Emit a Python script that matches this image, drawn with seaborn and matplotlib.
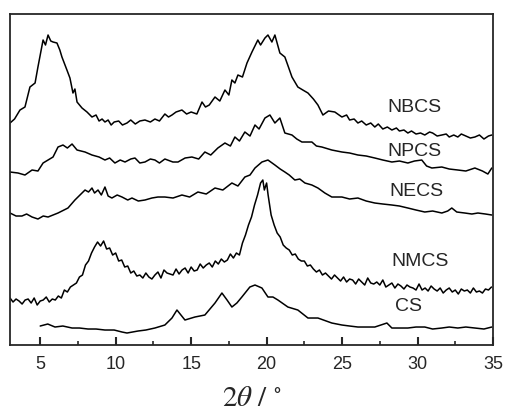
import numpy as np
import pandas as pd
import matplotlib
matplotlib.use("Agg")
import matplotlib.pyplot as plt
import seaborn as sns
from matplotlib.ticker import MultipleLocator

# XRD patterns, stacked with vertical offsets (arbitrary intensity units)
nbcs_2theta = [3.0, 3.3, 3.66, 3.99, 4.32, 4.66, 4.85, 5.19, 5.35, 5.52, 5.7, 5.85, 6.11, 6.3, 6.44,
               6.77, 6.97, 7.17, 7.3, 7.44, 7.77, 8.10, 8.43, 8.7, 8.9, 9.1, 9.29, 9.5, 9.7, 9.9,
               10.2, 10.45, 10.75, 11.0, 11.3, 11.6, 11.94, 12.3, 12.6, 12.9, 13.26, 13.5, 13.73,
               14.0, 14.39, 14.7, 15.0, 15.38, 15.72, 15.95, 16.2, 16.58, 16.9, 17.24, 17.5,
               17.70, 17.9, 18.10, 18.4, 18.70, 19.03, 19.42, 19.6, 19.89, 20.09, 20.35,
               20.55, 20.88, 21.21, 21.4, 21.68, 22.07, 22.4, 22.74, 23.1, 23.40, 23.73, 24.1,
               24.52, 24.99, 25.3, 25.5, 25.8, 26.05, 26.3, 26.6, 26.9, 27.17, 27.4, 27.7, 28.0,
               28.30, 28.6, 28.8, 29.1, 29.36, 29.6, 29.9, 30.2, 30.48, 30.8, 31.0, 31.3, 31.61,
               31.9, 32.1, 32.4, 32.67, 32.9, 33.2, 33.5, 33.80, 34.1, 34.4, 34.7, 34.92]
nbcs_int = [222, 226, 235, 238, 258, 262, 278, 305, 300, 310, 304, 303, 302, 295, 288,
            275, 267, 252, 256, 243, 237, 233, 228, 230, 224, 226, 223, 225, 220, 223,
            224, 220, 222, 225, 221, 224, 225, 223, 226, 224, 231, 228, 230,
            233, 235, 231, 233, 231, 243, 238, 240, 248, 244, 255, 250,
            265, 262, 270, 268, 282, 293, 305, 300, 307, 310, 303,
            310, 292, 288, 280, 268, 258, 255, 252, 246, 240, 230, 234,
            233, 228, 230, 225, 226, 222, 224, 220, 222, 218, 221, 216, 218,
            215, 217, 214, 215, 212, 214, 211, 212, 210, 213, 212, 209, 210,
            211, 208, 210, 208, 211, 209, 207, 208, 210, 206, 209, 210]

npcs_2theta = [3.0, 3.53, 3.99, 4.46, 4.85, 5.19, 5.52, 5.85, 6.18, 6.51, 6.8, 7.11, 7.44, 7.97,
               8.43, 8.9, 9.29, 9.6, 9.95, 10.3, 10.62, 11.0, 11.28, 11.6, 11.94, 12.3, 12.60,
               12.9, 13.26, 13.79, 14.13, 14.6, 15.05, 15.5, 15.91, 16.3, 16.77, 17.24, 17.6,
               17.90, 18.2, 18.56, 18.9, 19.23, 19.5, 19.89, 20.22, 20.55, 20.88, 21.21,
               21.68, 22.0, 22.34, 23.0, 23.3, 23.66, 24.32, 24.99, 25.5, 26.05, 26.6, 27.17,
               27.7, 28.30, 28.8, 29.36, 29.8, 30.28, 30.6, 30.95, 31.61, 32.1, 32.67, 33.2,
               33.80, 34.3, 34.66, 34.92]
npcs_int = [173, 172, 170, 175, 174, 182, 185, 188, 198, 200, 197, 201, 195, 193,
            190, 188, 185, 187, 182, 185, 183, 186, 187, 182, 183, 186, 185,
            182, 186, 183, 183, 187, 188, 186, 193, 190, 197, 202, 199,
            208, 204, 213, 209, 220, 216, 227, 230, 222, 227, 212,
            210, 206, 203, 203, 199, 198, 195, 193, 192, 190, 189, 187,
            185, 183, 184, 182, 184, 185, 179, 177, 178, 176, 175, 174,
            177, 174, 171, 177]

necs_2theta = [3.0, 3.4, 3.79, 4.1, 4.46, 4.85, 5.2, 5.52, 6.18, 6.84, 7.30, 7.97, 8.2, 8.43,
               8.6, 8.83, 9.05, 9.29, 9.5, 9.75, 10.1, 10.42, 10.8, 11.08, 11.5, 11.94, 12.4,
               12.80, 13.26, 13.8, 14.39, 14.9, 15.45, 16.0, 16.58, 17.1, 17.70, 18.1, 18.56,
               18.9, 19.23, 19.69, 20.09, 20.55, 20.9, 21.21, 21.5, 21.87, 22.2, 22.54, 23.0,
               23.40, 23.86, 24.32, 24.99, 25.5, 26.05, 26.6, 27.17, 27.7, 28.30, 28.8, 29.36,
               29.9, 30.48, 31.0, 31.61, 32.0, 32.27, 32.6, 33.13, 33.6, 34.0, 34.5, 34.92]
necs_int = [132, 129, 129, 131, 128, 126, 129, 128, 132, 137, 145, 155, 153, 157,
            152, 155, 150, 158, 149, 147, 150, 148, 145, 147, 144, 145, 147,
            148, 148, 147, 150, 148, 153, 151, 157, 155, 162, 159, 168,
            170, 177, 183, 185, 180, 176, 173, 170, 165, 166, 162, 160,
            157, 152, 148, 148, 146, 147, 144, 142, 141, 140, 139, 137,
            135, 133, 134, 132, 134, 137, 133, 132, 131, 132, 131, 130]

nmcs_2theta = [3.0, 3.2, 3.4, 3.6, 3.8, 4.0, 4.2, 4.4, 4.6, 4.8, 5.0, 5.2, 5.4, 5.6, 5.8, 6.0,
               6.2, 6.4, 6.6, 6.8, 7.0, 7.2, 7.4, 7.6, 7.8, 8.0, 8.2, 8.4, 8.6, 8.8, 9.0, 9.2,
               9.4, 9.6, 9.8, 10.0, 10.2, 10.4, 10.6, 10.8, 11.0, 11.2, 11.4, 11.6, 11.8, 12.0,
               12.2, 12.4, 12.6, 12.8, 13.0, 13.2, 13.4, 13.6, 13.8, 14.0, 14.2, 14.4, 14.6,
               14.8, 15.0, 15.2, 15.4, 15.6, 15.8, 16.0, 16.2, 16.4, 16.6, 16.8, 17.0, 17.2,
               17.4, 17.6, 17.8, 18.0, 18.2, 18.4, 18.6, 18.8, 19.0, 19.2, 19.4, 19.6, 19.75,
               19.85, 20.0, 20.1, 20.3, 20.5, 20.7, 20.9, 21.1, 21.3, 21.5, 21.7, 21.9, 22.1,
               22.3, 22.5, 22.7, 22.9, 23.1, 23.3, 23.5, 23.7, 23.9, 24.1, 24.3, 24.5, 24.7,
               24.9, 25.1, 25.3, 25.5, 25.7, 25.9, 26.1, 26.3, 26.5, 26.7, 26.9, 27.1, 27.3,
               27.5, 27.7, 27.9, 28.1, 28.3, 28.5, 28.7, 28.9, 29.1, 29.3, 29.5, 29.7, 29.9,
               30.1, 30.3, 30.5, 30.7, 30.9, 31.1, 31.3, 31.5, 31.7, 31.9, 32.1, 32.3, 32.5,
               32.7, 32.9, 33.1, 33.3, 33.5, 33.7, 33.9, 34.1, 34.3, 34.5, 34.7, 34.9]
nmcs_int = [47, 43, 46, 44, 41, 45, 46, 42, 47, 40, 44, 45, 48, 43, 46, 45,
            49, 47, 55, 53, 58, 60, 62, 68, 70, 80, 84, 92, 98, 103, 99, 104,
            96, 97, 90, 92, 84, 85, 78, 79, 72, 74, 69, 70, 67, 72,
            68, 66, 70, 73, 67, 75, 72, 71, 70, 76, 71, 75, 77,
            72, 78, 74, 75, 81, 77, 80, 82, 78, 84, 81, 86, 83,
            85, 91, 87, 92, 90, 102, 110, 120, 128, 140, 150, 162, 165,
            155, 162, 150, 130, 120, 112, 108, 100, 97, 95, 90, 91, 86,
            84, 84, 79, 80, 76, 73, 75, 70, 72, 69, 66, 70, 67,
            64, 68, 63, 66, 65, 61, 66, 63, 60, 67, 62, 61, 63,
            60, 65, 58, 60, 62, 57, 61, 59, 56, 60, 58, 57, 55,
            61, 55, 57, 54, 59, 56, 54, 57, 52, 55, 57, 53, 55,
            51, 56, 54, 55, 52, 57, 53, 54, 52, 56, 55, 58]

cs_2theta = [5.0, 5.5, 5.98, 6.5, 7.11, 7.6, 8.17, 8.7, 9.29, 9.9, 10.42, 10.75, 11.48, 12.0,
             12.60, 13.26, 13.73, 14.06, 14.59, 15.25, 15.91, 16.58, 17.04, 17.38, 17.70,
             18.03, 18.36, 18.89, 19.23, 19.69, 20.09, 20.42, 20.75, 21.41, 22.07, 22.74,
             23.40, 24.32, 24.99, 25.5, 26.05, 26.6, 27.17, 27.97, 28.30, 28.8, 29.36, 29.9,
             30.48, 31.0, 31.61, 32.1, 32.67, 33.2, 33.80, 34.4, 34.92]
cs_int = [19, 21, 18, 19, 17, 17, 16, 16, 15, 15, 13, 12, 14, 15,
          17, 20, 27, 35, 25, 28, 30, 42, 52, 45, 38,
          42, 48, 58, 60, 57, 48, 48, 45, 38, 35, 27,
          27, 22, 20, 19, 18, 18, 18, 22, 17, 17, 17, 18,
          18, 16, 17, 18, 17, 18, 17, 16, 18]

labels = ["NBCS", "NPCS", "NECS", "NMCS", "CS"]
label_x = [29.8, 29.8, 29.95, 30.2, 29.4]
label_y = [238, 194, 154, 84, 39]

series = [(nbcs_2theta, nbcs_int), (npcs_2theta, npcs_int), (necs_2theta, necs_int),
          (nmcs_2theta, nmcs_int), (cs_2theta, cs_int)]

sns.set_style("ticks")
plt.rcParams["font.family"] = ["Liberation Sans", "DejaVu Sans"]
plt.rcParams["mathtext.fontset"] = "stix"

fig = plt.figure(figsize=(5.06, 4.18), dpi=100)
ax = fig.add_axes([0.0198, 0.1746, 0.9545, 0.7919])

for name, (tt, inten) in zip(labels, series):
    df = pd.DataFrame({"2theta": tt, "intensity": inten})
    sns.lineplot(data=df, x="2theta", y="intensity", ax=ax, color="black",
                 lw=1.1, sort=False, estimator=None)

for name, lx, ly in zip(labels, label_x, label_y):
    ax.text(lx, ly, name, ha="center", va="center", fontsize=14)

ax.set_xlim(3, 35)
ax.set_ylim(0, 331)
ax.set_yticks([])
ax.set_ylabel("")
ax.xaxis.set_major_locator(MultipleLocator(5))
ax.xaxis.set_minor_locator(MultipleLocator(2.5))
ax.tick_params(axis="x", which="major", direction="in", length=6, width=1.5,
               labelsize=13, pad=8, top=False)
ax.tick_params(axis="x", which="minor", direction="in", length=3, width=1.2, top=False)
for sp in ax.spines.values():
    sp.set_linewidth(1.3)
    sp.set_visible(True)
ax.set_xlabel(r"$2\theta\ /\ ^{\circ}$", fontsize=21, labelpad=8)

fig.savefig("out.png", dpi=100)
